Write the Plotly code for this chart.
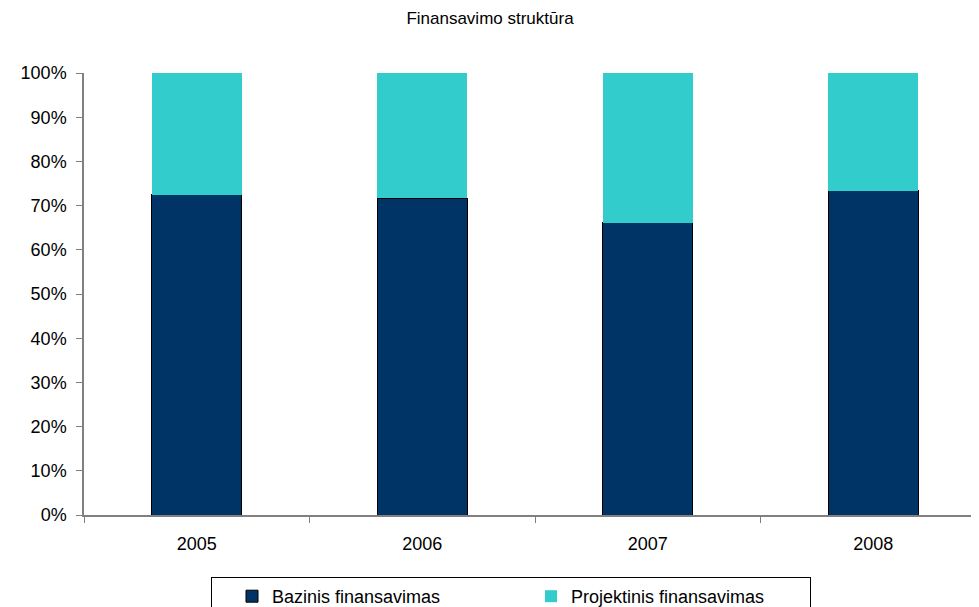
import plotly.graph_objects as go

years = ["2005", "2006", "2007", "2008"]
bazinis = [72.5, 71.7, 66.1, 73.4]
projektinis = [27.5, 28.3, 33.9, 26.6]

FONT = "Liberation Sans, Arial, sans-serif"

# the page body has an 8px margin, so the figure is drawn from (8, 8)
OFF = 8
W, H = 979 - OFF, 607 - OFF

fig = go.Figure()
fig.add_trace(go.Bar(
    x=years, y=bazinis, name="Bazinis finansavimas",
    marker=dict(color="#003366", line=dict(color="#000000", width=1)),
    width=0.4,
))
fig.add_trace(go.Bar(
    x=years, y=projektinis, name="Projektinis finansavimas",
    marker=dict(color="#33CCCC", line=dict(color="#33CCCC", width=0)),
    width=0.4,
))

plot_h = 515 - 73
plot_w = 979 - 84
fig.update_layout(
    barmode="stack",
    width=W, height=H,
    margin=dict(l=84 - OFF, r=0, t=73 - OFF, b=92, autoexpand=False),
    paper_bgcolor="white", plot_bgcolor="white",
    font=dict(family=FONT, color="#000000", size=18),
    title=dict(text="Finansavimo struktūra", x=(490 - OFF) / W, xref="container",
               xanchor="center",
               y=1 - (18 - OFF) / H, yanchor="middle",
               font=dict(family=FONT, size=17, color="#000000")),
    showlegend=True,
    legend=dict(orientation="h", x=(211 - 84) / plot_w, xanchor="left",
                y=(515 - 577) / plot_h, yanchor="top",
                bordercolor="#000000", borderwidth=1, indentation=20,
                font=dict(family=FONT, size=18, color="#000000"),
                entrywidth=234, traceorder="normal"),
)
fig.update_xaxes(
    range=[-0.5, 3.469],
    showline=True, linecolor="#808080", linewidth=1.5,
    ticks="outside", tickson="boundaries", ticklen=6, tickcolor="#808080",
    showgrid=False, zeroline=False, ticklabelstandoff=12,
)
fig.update_yaxes(
    range=[0, 100], dtick=10, ticksuffix="%",
    showline=True, linecolor="#808080", linewidth=1.5,
    ticks="outside", ticklen=6, tickcolor="#808080",
    showgrid=False, zeroline=False, ticklabelstandoff=6,
)

fig.write_html("out.html")
